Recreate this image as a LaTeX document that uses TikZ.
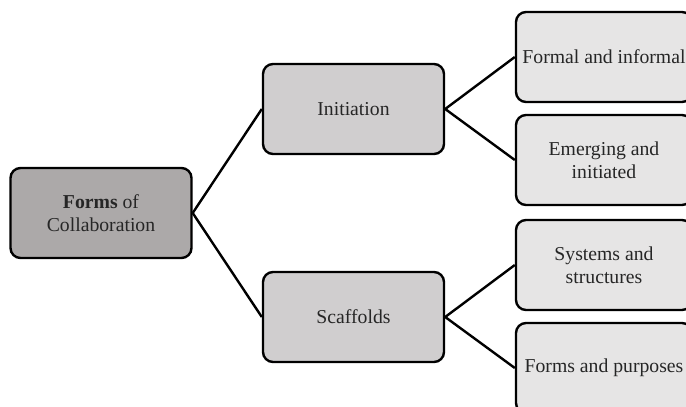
\documentclass[tikz,border=0pt]{standalone}
\usepackage{fontspec}
\setmainfont{Liberation Serif}
\begin{document}
\begin{tikzpicture}[x=0.5pt,y=-0.5pt,
  box/.style={draw=black, line width=1.2pt, rounded corners=5pt,
    minimum width=90.5pt, minimum height=45pt, inner sep=1pt,
    align=center, font=\fontsize{9.85}{11.6}\selectfont, text=black!85},
  rootbox/.style={box, fill=rootgray},
  midbox/.style={box, fill=midgray},
  leafbox/.style={box, fill=leafgray, minimum width=88pt},
  link/.style={draw=black, line width=1.2pt}]
\definecolor{rootgray}{HTML}{ACA9A9}
\definecolor{midgray}{HTML}{D0CECF}
\definecolor{leafgray}{HTML}{E6E5E5}
\useasboundingbox (0,0) rectangle (686,407);
\clip (0,0) rectangle (686,407);
% root
\node[rootbox] (root) at (101,213) {\textbf{Forms} of\\Collaboration};
% second level
\node[midbox] (init) at (353.5,109) {Initiation};
\node[midbox] (scaf) at (353.5,317) {Scaffolds};
% third level
\node[leafbox] (formal) at (604,57) {Formal and informal};
\node[leafbox] (emerg) at (604,160) {Emerging and\\initiated};
\node[leafbox] (sys) at (604,265) {Systems and\\structures};
\node[leafbox] (purp) at (604,368) {Forms and purposes};
% connectors
\draw[link] (root.east) -- (init.west);
\draw[link] (root.east) -- (scaf.west);
\draw[link] (init.east) -- (formal.west);
\draw[link] (init.east) -- (emerg.west);
\draw[link] (scaf.east) -- (sys.west);
\draw[link] (scaf.east) -- (purp.west);
\end{tikzpicture}
\end{document}
